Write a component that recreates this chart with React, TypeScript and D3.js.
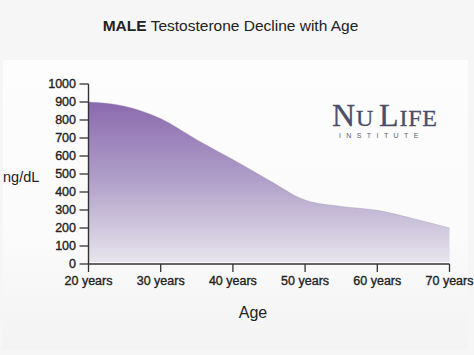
import React from "react";
import * as d3 from "d3";

const ages = [20, 25, 30, 35, 40, 45, 50, 55, 60, 65, 70];
const levels = [900, 877, 808, 690, 580, 465, 355, 320, 298, 252, 200];
const xTickValues = [20, 30, 40, 50, 60, 70];
const xTickLabels = ["20 years", "30 years", "40 years", "50 years", "60 years", "70 years"];
const yTickValues = [0, 100, 200, 300, 400, 500, 600, 700, 800, 900, 1000];

const W = 474;
const H = 355;

export default function App() {
  const x = d3.scaleLinear().domain([20, 70]).range([88.5, 449.5]);
  const y = d3.scaleLinear().domain([0, 1000]).range([264, 84]);
  const data = ages.map((a, i) => ({ a, v: levels[i] }));
  const area = d3
    .area<{ a: number; v: number }>()
    .x((d) => x(d.a))
    .y0(y(0) - 2)
    .y1((d) => y(d.v))
    .curve(d3.curveMonotoneX);
  const line = d3
    .line<{ a: number; v: number }>()
    .x((d) => x(d.a))
    .y((d) => y(d.v))
    .curve(d3.curveMonotoneX);
  const axisColor = "#333";
  const font = "'Liberation Sans', Arial, sans-serif";
  const labelStroke = { stroke: "#222", strokeWidth: 0.35 };
  return (
    <svg
      width={W}
      height={H}
      style={{ position: "fixed", left: 0, top: 0 }}
      fontFamily={font}
    >
      <defs>
        <linearGradient id="fillGrad" gradientUnits="userSpaceOnUse" x1="0" x2="0" y1={y(900)} y2={y(0)}>
          <stop offset="0" stopColor="#8a69ae" />
          <stop offset="0.5" stopColor="#b2a2ca" />
          <stop offset="1" stopColor="#e8e6ed" />
        </linearGradient>
        <linearGradient id="bgGrad" x1="0" x2="0" y1="0" y2="1">
          <stop offset="0" stopColor="#fdfdfd" />
          <stop offset="0.6" stopColor="#fbfbfb" />
          <stop offset="1" stopColor="#f3f3f3" />
        </linearGradient>
      </defs>
      <rect x={0} y={0} width={W} height={H} fill="#f6f6f6" />
      <rect x={3} y={60} width={465} height={290} fill="url(#bgGrad)" />

      <text x={230.5} y={31} textAnchor="middle" fontSize={15.5} fill="#222">
        <tspan fontWeight="bold">MALE</tspan>
        <tspan> Testosterone Decline with Age</tspan>
      </text>

      <path d={area(data) ?? ""} fill="url(#fillGrad)" />
      <path d={line(data) ?? ""} fill="none" stroke="#9d93a8" strokeOpacity={0.35} strokeWidth={1} />

      {/* Y axis */}
      <line x1={x(20)} x2={x(20)} y1={y(0)} y2={y(1000)} stroke={axisColor} strokeWidth={1.4} />
      {yTickValues.map((v) => (
        <g key={v}>
          <line x1={x(20) - 9} x2={x(20)} y1={y(v)} y2={y(v)} stroke={axisColor} strokeWidth={1.3} />
          <text x={76} y={y(v)} dy="0.35em" textAnchor="end" fontSize={12.5} fill="#222" {...labelStroke}>
            {v}
          </text>
        </g>
      ))}

      {/* X axis */}
      <line x1={x(20)} x2={x(70)} y1={y(0)} y2={y(0)} stroke={axisColor} strokeWidth={1.4} />
      {xTickValues.map((v, i) => (
        <g key={v}>
          <line x1={x(v)} x2={x(v)} y1={y(0)} y2={y(0) + 8} stroke={axisColor} strokeWidth={1.3} />
          <text x={x(v)} y={285} textAnchor="middle" fontSize={12.5} fill="#222" {...labelStroke}>
            {xTickLabels[i]}
          </text>
        </g>
      ))}

      <text x={3} y={182} fontSize={14.5} fill="#222">ng/dL</text>
      <text x={253} y={317.5} textAnchor="middle" fontSize={16} fill="#222">Age</text>

      {/* Logo */}
      <text x={332} y={126} fontFamily="'Liberation Serif', 'Times New Roman', serif" fill="#4b4e6b" letterSpacing={0.8} stroke="#4b4e6b" strokeWidth={0.3}>
        <tspan fontSize={32}>N</tspan>
        <tspan fontSize={24}>U</tspan>
        <tspan fontSize={32} dx={5}>L</tspan>
        <tspan fontSize={24}>IFE</tspan>
      </text>
      <text x={339} y={138} fontSize={7} fill="#5c5f77" fontFamily={font} letterSpacing={5.4}>
        INSTITUTE
      </text>
    </svg>
  );
}
